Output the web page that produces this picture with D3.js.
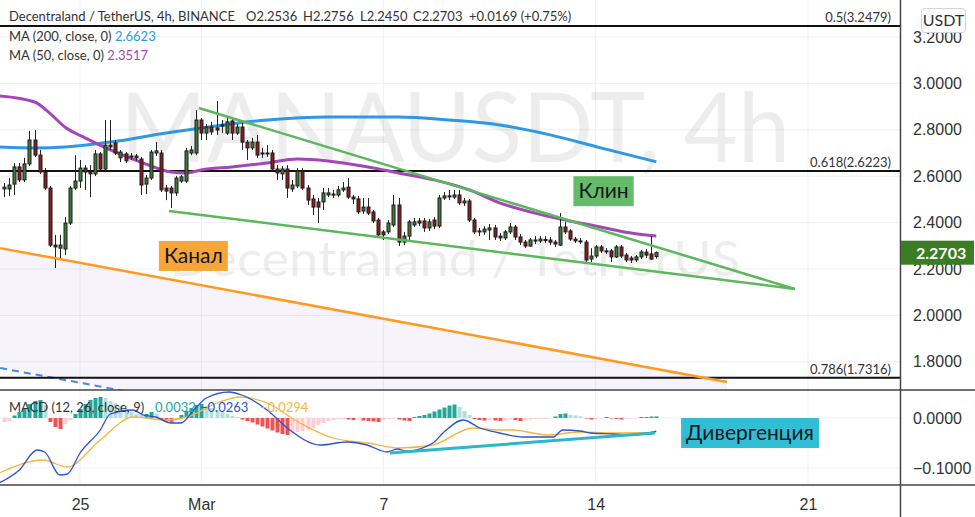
<!DOCTYPE html>
<meta charset="utf-8">
<style>
  body { margin: 0; background: #fff; }
  svg { display: block; font-family: Lato, "Open Sans", sans-serif; }
  .tick-label { font-size: 16px; fill: #333; }
  .legend { font-size: 13px; fill: #333; }
  .fib-label { font-size: 13px; fill: #333; }
  .grid line { stroke: #eef0f4; stroke-width: 1; }
  .wick { stroke: #222; stroke-width: 1; }
  .body { stroke: #1d1d1d; stroke-width: 1; }
  .note { font-size: 21px; fill: #131722; }
</style>
<svg width="975" height="517"></svg>
<script src="https://d3js.org/d3.v7.min.js"></script>
<script>
// MANAUSDT 4h candles, first one 22 Feb 2021 12:00 UTC
var firstCandle = Date.UTC(2021, 1, 22, 12);
var opens = [2.545,2.545,2.566,2.640,2.584,2.653,2.756,2.691,2.618,2.549,2.303,2.290,2.286,2.398,2.549,2.579,2.635,2.618,2.610,2.696,
  2.631,2.734,2.743,2.679,2.696,2.687,2.687,2.674,2.566,2.592,2.700,2.700,2.549,2.549,2.528,2.579,2.579,2.700,2.700,2.842,
  2.786,2.812,2.808,2.816,2.786,2.838,2.786,2.812,2.747,2.722,2.747,2.696,2.700,2.700,2.631,2.610,2.631,2.545,2.558,2.622,
  2.549,2.502,2.489,2.489,2.519,2.519,2.519,2.541,2.553,2.510,2.502,2.450,2.467,2.446,2.411,2.360,2.360,2.390,2.476,2.316,
  2.342,2.390,2.407,2.407,2.377,2.411,2.385,2.506,2.515,2.510,2.519,2.485,2.493,2.411,2.364,2.360,2.368,2.377,2.342,2.334,
  2.360,2.381,2.338,2.316,2.299,2.325,2.321,2.325,2.325,2.316,2.303,2.381,2.364,2.329,2.321,2.316,2.243,2.256,2.295,2.278,
  2.278,2.252,2.295,2.260,2.247,2.239,2.252,2.273,2.265,2.2536];
var closes = [2.553,2.562,2.640,2.584,2.653,2.756,2.691,2.618,2.549,2.303,2.295,2.303,2.398,2.549,2.579,2.635,2.618,2.610,2.696,2.631,
  2.734,2.726,2.700,2.704,2.666,2.683,2.679,2.562,2.592,2.704,2.709,2.541,2.536,2.528,2.592,2.597,2.709,2.713,2.842,2.786,
  2.812,2.791,2.799,2.821,2.834,2.786,2.812,2.747,2.722,2.747,2.691,2.700,2.698,2.631,2.614,2.631,2.549,2.562,2.622,2.549,
  2.497,2.467,2.467,2.528,2.528,2.523,2.541,2.549,2.510,2.502,2.446,2.467,2.441,2.407,2.347,2.347,2.398,2.476,2.316,2.342,
  2.403,2.403,2.398,2.377,2.403,2.385,2.506,2.515,2.513,2.519,2.485,2.493,2.411,2.360,2.362,2.372,2.377,2.338,2.334,2.360,
  2.381,2.338,2.316,2.299,2.325,2.323,2.329,2.327,2.316,2.308,2.381,2.360,2.329,2.321,2.319,2.239,2.256,2.295,2.278,2.276,
  2.252,2.295,2.256,2.239,2.239,2.252,2.273,2.260,2.243,2.2703];
var highs = [2.571,2.592,2.657,2.657,2.679,2.795,2.799,2.713,2.635,2.558,2.347,2.347,2.424,2.558,2.691,2.670,2.648,2.648,2.713,2.704,
  2.842,2.842,2.756,2.713,2.704,2.700,2.696,2.683,2.605,2.713,2.747,2.713,2.562,2.558,2.601,2.605,2.722,2.730,2.885,2.851,
  2.825,2.834,2.924,2.842,2.851,2.846,2.825,2.834,2.756,2.765,2.778,2.722,2.734,2.713,2.648,2.644,2.648,2.584,2.635,2.635,
  2.562,2.519,2.506,2.549,2.549,2.541,2.558,2.575,2.592,2.519,2.515,2.506,2.506,2.454,2.420,2.368,2.411,2.519,2.506,2.360,
  2.411,2.420,2.420,2.420,2.416,2.424,2.519,2.532,2.541,2.541,2.541,2.506,2.502,2.420,2.377,2.385,2.394,2.390,2.355,2.368,
  2.398,2.390,2.351,2.325,2.334,2.342,2.342,2.342,2.338,2.325,2.441,2.403,2.372,2.338,2.334,2.325,2.290,2.303,2.303,2.290,
  2.286,2.303,2.303,2.269,2.256,2.260,2.282,2.286,2.342,2.2756];
var lows = [2.510,2.515,2.519,2.575,2.575,2.644,2.683,2.610,2.541,2.295,2.204,2.239,2.260,2.390,2.541,2.549,2.541,2.510,2.601,2.622,
  2.622,2.713,2.691,2.661,2.657,2.670,2.666,2.519,2.523,2.584,2.687,2.532,2.497,2.463,2.515,2.571,2.571,2.691,2.691,2.756,
  2.756,2.778,2.778,2.786,2.778,2.756,2.778,2.713,2.670,2.713,2.679,2.679,2.683,2.622,2.584,2.584,2.506,2.532,2.549,2.541,
  2.476,2.433,2.398,2.454,2.510,2.506,2.510,2.532,2.502,2.480,2.437,2.437,2.433,2.398,2.334,2.325,2.351,2.381,2.299,2.303,
  2.325,2.381,2.385,2.360,2.364,2.372,2.377,2.497,2.497,2.502,2.476,2.472,2.403,2.351,2.342,2.347,2.325,2.325,2.321,2.325,
  2.351,2.325,2.303,2.290,2.295,2.308,2.312,2.312,2.303,2.295,2.299,2.351,2.321,2.312,2.308,2.226,2.230,2.247,2.269,2.265,
  2.230,2.247,2.247,2.230,2.226,2.230,2.243,2.247,2.239,2.2450];

// moving averages, read as [candle index, price]
var ma200 = [[-1,2.726],[6,2.722],[12,2.726],[21,2.747],[32,2.786],[39,2.808],[52,2.842],[64,2.855],[78,2.855],
  [88,2.842],[98,2.821],[108,2.778],[118,2.722],[129,2.662]];
var ma50 = [[-1,2.946],[6,2.920],[9,2.872],[12,2.812],[16,2.765],[21,2.713],[27,2.661],[33,2.618],[36,2.614],[39,2.627],
  [45,2.640],[52,2.657],[58,2.674],[64,2.666],[72,2.640],[78,2.614],[85,2.584],[92,2.541],[98,2.485],[105,2.441],
  [111,2.411],[118,2.381],[124,2.355],[129,2.342]];

// MACD (12, 26, close, 9)
var macdHist = [-8,-6,5,12,20,28,34,36,26,-8,-18,-22,-12,-4,8,18,28,36,40,42,40,34,30,24,18,12,8,6,8,12,9,-3,-7,-9,-5,6,14,20,26,28,
  24,20,16,12,8,4,2,-3,-6,-9,-13,-17,-21,-25,-29,-32,-34,-30,-28,-26,-24,-20,-14,-10,-6,-4,-2,-2,-3,-4,-3,-5,-6,-7,-8,-4,-2,-1,-3,-5,
  -6,2,4,6,9,13,17,21,25,27,22,14,6,-2,-4,-5,-4,-5,-6,-5,-3,-4,-6,-5,-3,-2,-2,-2,-1,3,8,9,6,5,3,-1,-3,-2,-1,2,
  -1,-2,-3,-2,-1,-1,2,2,3,3.2].map(function(v){ return v / 1000; });
var macdLine = [[-1,-0.130],[3,-0.104],[6.5,-0.064],[8,-0.068],[11,-0.114],[12.5,-0.112],[15,-0.070],[19,-0.024],[21,0.008],
  [25.5,0.016],[27.5,0.006],[30,0.002],[33,-0.010],[35,-0.010],[37.5,0.016],[40,0.040],[44.5,0.052],[47,0.046],[52,0.016],
  [56.5,-0.024],[62.5,-0.054],[67.8,-0.048],[71.8,-0.054],[75.7,-0.068],[77.7,-0.062],[79.7,-0.066],[84.8,-0.050],
  [86.8,-0.030],[90.8,-0.004],[94.1,-0.020],[98,-0.030],[102.6,-0.038],[108.6,-0.038],[110.5,-0.024],[113.9,-0.026],
  [115.9,-0.030],[120.4,-0.032],[124.4,-0.034],[129,-0.0263]];
var signalLine = [[-1,-0.110],[7.7,-0.084],[12.4,-0.098],[19,-0.044],[25.5,0.002],[32.2,-0.004],[36.2,0.002],[42.1,0.030],
  [46.6,0.042],[52,0.030],[58.5,-0.010],[65,-0.040],[71.8,-0.050],[78.3,-0.060],[84.8,-0.054],[92.7,-0.020],[98,-0.024],
  [100.7,-0.024],[107.4,-0.034],[113.9,-0.028],[120.4,-0.030],[129,-0.0294]];

// drawings: [candle index, price]
var wedgeTop = [[38.5,2.894],[156.4,2.114]];
var wedgeBottom = [[32.6,2.450],[156.4,2.114]];
var channelTop = [[-0.8,2.290],[143,1.713]];
var channelBottom = [[-0.8,1.773],[143,1.196]];
var divergence = [[76.3,-0.070],[128.7,-0.030]];
var fibLevels = [3.2479, 2.6223, 1.7316];
var fibNames = ["0.5(3.2479)", "0.618(2.6223)", "0.786(1.7316)"];
var notes = [
  {text: "Клин", i: 112.6, v: 2.600, pane: "price", color: "#66bb6a"},
  {text: "Канал", i: 30.6, v: 2.321, pane: "price", color: "#f7a536"},
  {text: "Дивергенция", i: 133.9, v: 0.0, pane: "macd", color: "#31bdd3"}
];

var priceTicks = [3.2, 3.0, 2.8, 2.6, 2.4, 2.2, 2.0, 1.8];
var macdTicks = [0, -0.1];
var timeTicks = [Date.UTC(2021,1,25), Date.UTC(2021,2,1), Date.UTC(2021,2,7), Date.UTC(2021,2,14), Date.UTC(2021,2,21)];
var timeLabels = ["25", "Mar", "7", "14", "21"];
var lastClose = 2.2703;

var svg = d3.select("svg");
var W = 900, paneBottom = 390, macdBottom = 485;

var x = d3.scaleUtc()
  .domain([Date.UTC(2021,1,22,8,40), Date.UTC(2021,2,24,0,50)])
  .range([0, W]);
var y = d3.scaleLinear().domain([3.2, 1.8]).range([37, 361.8]);
var yM = d3.scaleLinear().domain([0, -0.1]).range([418, 468]);
function tx(i) { return x(new Date(firstCandle + i * 4 * 3600e3)); }

var defs = svg.append("defs");
defs.append("clipPath").attr("id", "clipPrice").append("rect")
  .attr("x", 0).attr("y", 0).attr("width", W).attr("height", paneBottom);
defs.append("clipPath").attr("id", "clipMacd").append("rect")
  .attr("x", 0).attr("y", paneBottom).attr("width", W).attr("height", macdBottom - paneBottom);

// grid
var grid = svg.append("g").attr("class", "grid");
grid.selectAll(".v").data(timeTicks).enter().append("line")
  .attr("x1", function(d){ return x(d); }).attr("x2", function(d){ return x(d); })
  .attr("y1", 0).attr("y2", macdBottom);
grid.selectAll(".h").data(priceTicks).enter().append("line")
  .attr("x1", 0).attr("x2", W).attr("y1", function(d){ return y(d); }).attr("y2", function(d){ return y(d); });
grid.selectAll(".hm").data(macdTicks).enter().append("line")
  .attr("x1", 0).attr("x2", W).attr("y1", function(d){ return yM(d); }).attr("y2", function(d){ return yM(d); });

// watermark
var wm = svg.append("g").attr("fill", "#000").attr("fill-opacity", 0.07).attr("text-anchor", "middle");
wm.append("text").attr("x", 455).attr("y", 162).attr("font-size", 96)
  .attr("textLength", 670).attr("lengthAdjust", "spacingAndGlyphs").text("MANAUSDT, 4h");
wm.append("text").attr("x", 455).attr("y", 276).attr("font-size", 48)
  .attr("textLength", 570).attr("lengthAdjust", "spacingAndGlyphs").text("Decentraland / TetherUS");

var price = svg.append("g").attr("clip-path", "url(#clipPrice)");

// parallel channel
var chPoly = channelTop.concat(channelBottom.slice().reverse());
price.append("path")
  .attr("d", d3.line().x(function(d){ return tx(d[0]); }).y(function(d){ return y(d[1]); })(chPoly) + "Z")
  .attr("fill", "#673ab7").attr("fill-opacity", 0.06);
var seg = d3.line().x(function(d){ return tx(d[0]); }).y(function(d){ return y(d[1]); });
price.append("path").attr("d", seg(channelBottom)).attr("stroke", "#4a86e8")
  .attr("stroke-width", 2).attr("stroke-dasharray", "7,5").attr("fill", "none");

// fib levels
price.selectAll(".fib").data(fibLevels).enter().append("line")
  .attr("x1", 0).attr("x2", W).attr("y1", function(d){ return y(d); }).attr("y2", function(d){ return y(d); })
  .attr("stroke", "#111").attr("stroke-width", 2);
price.selectAll(".fibt").data(fibLevels).enter().append("text")
  .attr("class", "fib-label").attr("text-anchor", "end")
  .attr("x", 891).attr("y", function(d){ return y(d) - 4; })
  .text(function(d, i){ return fibNames[i]; });

// moving averages
var maLine = d3.line().curve(d3.curveMonotoneX)
  .x(function(d){ return tx(d[0]); }).y(function(d){ return y(d[1]); });
price.append("path").attr("d", maLine(ma200)).attr("fill", "none").attr("stroke", "#2f98e6").attr("stroke-width", 3);
price.append("path").attr("d", maLine(ma50)).attr("fill", "none").attr("stroke", "#a347b8").attr("stroke-width", 3);

// candles
var candles = d3.range(opens.length).map(function(i){
  return {i: i, o: opens[i], h: highs[i], l: lows[i], c: closes[i]};
});
var cg = price.append("g");
cg.selectAll(".wick").data(candles).enter().append("line").attr("class", "wick")
  .attr("x1", function(d){ return Math.round(tx(d.i)) + 0.5; }).attr("x2", function(d){ return Math.round(tx(d.i)) + 0.5; })
  .attr("y1", function(d){ return y(d.h); }).attr("y2", function(d){ return y(d.l); });
cg.selectAll(".body").data(candles).enter().append("rect").attr("class", "body")
  .attr("x", function(d){ return Math.round(tx(d.i)) - 1; })
  .attr("y", function(d){ return y(Math.max(d.o, d.c)); })
  .attr("width", 3)
  .attr("height", function(d){ return Math.max(1, Math.abs(y(d.o) - y(d.c))); })
  .attr("fill", function(d){ return d.c >= d.o ? "#3f7a3a" : "#8c1c1c"; });

// trend lines
price.append("path").attr("d", seg(channelTop)).attr("stroke", "#ff9a1f").attr("stroke-width", 2.5).attr("fill", "none");
price.append("path").attr("d", seg(wedgeTop)).attr("stroke", "#5cb85c").attr("stroke-width", 2.5).attr("fill", "none");
price.append("path").attr("d", seg(wedgeBottom)).attr("stroke", "#5cb85c").attr("stroke-width", 2.5).attr("fill", "none");

// MACD pane
var macd = svg.append("g").attr("clip-path", "url(#clipMacd)");
macd.selectAll(".hist").data(macdHist).enter().append("rect")
  .attr("x", function(d, i){ return Math.round(tx(i)) - 1.5; })
  .attr("width", 4)
  .attr("y", function(d){ return Math.min(yM(d), yM(0)); })
  .attr("height", function(d){ return Math.abs(yM(d) - yM(0)); })
  .attr("fill", function(d, i){
    var prev = i > 0 ? macdHist[i - 1] : d;
    if (d >= 0) return d >= prev ? "#26a69a" : "#b2dfdb";
    return d < prev ? "#ef5350" : "#ffcdd2";
  });
var mLine = d3.line().curve(d3.curveMonotoneX)
  .x(function(d){ return tx(d[0]); }).y(function(d){ return yM(d[1]); });
macd.append("path").attr("d", mLine(signalLine)).attr("fill", "none").attr("stroke", "#f5b53f").attr("stroke-width", 1.3);
macd.append("path").attr("d", mLine(macdLine)).attr("fill", "none").attr("stroke", "#2a52d6").attr("stroke-width", 1.3);
macd.append("path").attr("d", d3.line().x(function(d){ return tx(d[0]); }).y(function(d){ return yM(d[1]); })(divergence))
  .attr("stroke", "#2bb7cc").attr("stroke-width", 3).attr("fill", "none");

// note boxes
notes.forEach(function(n){
  var px = tx(n.i), py = n.pane === "price" ? y(n.v) : yM(n.v);
  var g = svg.append("g");
  var t = g.append("text").attr("class", "note").attr("x", px + 5).attr("y", py + 22).text(n.text);
  var b = t.node().getBBox();
  g.insert("rect", "text").attr("x", px).attr("y", py)
    .attr("width", b.width + 10).attr("height", 30).attr("fill", n.color);
});

// legends
var lg = svg.append("g").attr("class", "legend");
lg.append("text").attr("x", 9).attr("y", 21).text("Decentraland / TetherUS, 4h, BINANCE");
var ohlc = ["O2.2536", "H2.2756", "L2.2450", "C2.2703", "+0.0169 (+0.75%)"];
var ohlcX = [246, 303, 360, 413, 469];
lg.selectAll(".ohlc").data(ohlc).enter().append("text")
  .attr("x", function(d, i){ return ohlcX[i]; }).attr("y", 21).text(function(d){ return d; });
var ma1 = lg.append("text").attr("x", 9).attr("y", 41);
ma1.append("tspan").text("MA (200, close, 0)  ");
ma1.append("tspan").attr("fill", "#2f98e6").text("2.6623");
var ma2 = lg.append("text").attr("x", 9).attr("y", 60);
ma2.append("tspan").text("MA (50, close, 0)  ");
ma2.append("tspan").attr("fill", "#a347b8").text("2.3517");
var macdLegend = ["MACD (12, 26, close, 9)", "0.0032", "−0.0263", "−0.0294"];
var macdLegendX = [9, 155, 200, 260];
var macdLegendC = ["#333", "#26a69a", "#2a52d6", "#f5b53f"];
lg.selectAll(".ml").data(macdLegend).enter().append("text")
  .attr("x", function(d, i){ return macdLegendX[i]; }).attr("y", 412)
  .attr("fill", function(d, i){ return macdLegendC[i]; }).text(function(d){ return d; });

// separators
svg.append("line").attr("x1", 0).attr("x2", 975).attr("y1", paneBottom).attr("y2", paneBottom)
  .attr("stroke", "#444").attr("stroke-width", 1.5);
svg.append("line").attr("x1", 0).attr("x2", 975).attr("y1", macdBottom).attr("y2", macdBottom)
  .attr("stroke", "#444").attr("stroke-width", 1.5);
svg.append("line").attr("x1", W + 0.5).attr("x2", W + 0.5).attr("y1", 0).attr("y2", 517)
  .attr("stroke", "#444").attr("stroke-width", 1.5);

// price axis
var pa = svg.append("g").attr("transform", "translate(" + W + ",0)")
  .call(d3.axisRight(y).tickValues(priceTicks).tickFormat(d3.format(".4f")).tickSize(0).tickPadding(13));
pa.select(".domain").remove();
pa.selectAll("text").attr("class", "tick-label").attr("font-family", null).attr("font-size", null);
var ma = svg.append("g").attr("transform", "translate(" + W + ",0)")
  .call(d3.axisRight(yM).tickValues(macdTicks).tickFormat(d3.format(".4f")).tickSize(0).tickPadding(13));
ma.select(".domain").remove();
ma.selectAll("text").attr("class", "tick-label").attr("font-family", null).attr("font-size", null);

// time axis
var ta = svg.append("g").attr("transform", "translate(0," + macdBottom + ")")
  .call(d3.axisBottom(x).tickValues(timeTicks.map(function(d){ return new Date(d); }))
    .tickFormat(function(d, i){ return timeLabels[i]; }).tickSize(0).tickPadding(14));
ta.select(".domain").remove();
ta.selectAll("text").attr("class", "tick-label").attr("font-family", null).attr("font-size", null);

// last price label
svg.append("rect").attr("x", W + 1).attr("y", y(lastClose) - 12).attr("width", 73).attr("height", 24).attr("fill", "#3a7d23");
svg.append("text").attr("x", 916).attr("y", y(lastClose) + 6).attr("fill", "#fff")
  .attr("font-size", 16).attr("font-weight", "bold").text(d3.format(".4f")(lastClose));

// currency box
svg.append("rect").attr("x", 921.5).attr("y", 8.5).attr("width", 44).attr("height", 24).attr("rx", 3)
  .attr("fill", "#fff").attr("stroke", "#d0d3db");
svg.append("text").attr("class", "tick-label").attr("x", 943.5).attr("y", 26).attr("text-anchor", "middle").text("USDT");
</script>
